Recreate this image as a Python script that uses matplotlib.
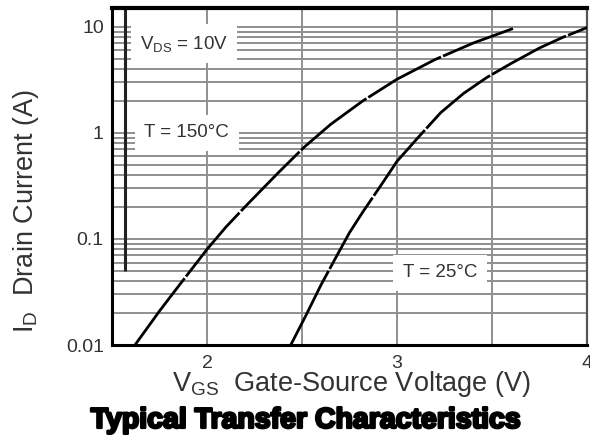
import matplotlib
matplotlib.use("Agg")
import matplotlib.pyplot as plt
import matplotlib.patheffects as pe

plt.rcParams["font.family"] = ["Liberation Sans", "DejaVu Sans"]
plt.rcParams["mathtext.fontset"] = "custom"
plt.rcParams["mathtext.rm"] = "Liberation Sans"
plt.rcParams["mathtext.it"] = "Liberation Sans"

# curves
vgs_150 = [1.62, 1.75, 1.85, 2.0, 2.1, 2.21, 2.38, 2.51, 2.65, 2.82, 3.0, 3.2, 3.4, 3.61]
id_150 = [0.01, 0.021, 0.036, 0.08, 0.13, 0.21, 0.43, 0.73, 1.2, 2.0, 3.2, 4.9, 7.0, 9.6]

vgs_25 = [2.44, 2.52, 2.6, 2.68, 2.75, 2.82, 2.91, 3.0, 3.11, 3.23, 3.35, 3.47, 3.6, 3.75, 3.87, 4.0]
id_25 = [0.01, 0.019, 0.037, 0.068, 0.115, 0.18, 0.31, 0.54, 0.9, 1.55, 2.35, 3.3, 4.5, 6.3, 7.9, 9.8]

x_ticks = [2, 3, 4]
x_grid = [2, 2.5, 3, 3.5, 4]
y_ticks = [0.01, 0.1, 1, 10]
y_ticklabels = ["0.01", "0.1", "1", "10"]

fig = plt.figure(figsize=(5.9, 4.43), dpi=100)
ax = fig.add_axes([0.19, 0.221, 0.805, 0.761])
ax.set_yscale("log")
ax.set_xlim(1.5, 4.0)
ax.set_ylim(0.01, 15)

grid_col = "#8f8f8f"
for dec in [0.01, 0.1, 1, 10]:
    for k in range(1, 10):
        y = dec * k
        if y < 15:
            ax.axhline(y, color=grid_col, lw=1.4, zorder=1)
for xg in x_grid:
    ax.axvline(xg, color=grid_col, lw=1.4, zorder=1)

# odd extra vertical rule near the left edge
ax.vlines(1.568, 0.05, 15, color="#222222", lw=2.2, zorder=2)

ax.plot(vgs_150, id_150, color="black", lw=2.0, ls=(0, (30, 0.8)), zorder=4)
ax.plot(vgs_25, id_25, color="black", lw=2.0, ls=(0, (30, 0.8)), zorder=4)

box = dict(facecolor="white", edgecolor="none", boxstyle="square,pad=0.5")
ax.text(1.647, 6.9, r"V$_{\rm DS}$ = 10V", fontsize=13.5, color="#333333",
        va="center", ha="left", bbox=box, zorder=3)
ax.text(1.67, 1.0, "T = 150°C", fontsize=13.5, color="#333333",
        va="center", ha="left", bbox=box, zorder=3)
ax.text(3.03, 0.048, "T = 25°C", fontsize=13.5, color="#333333",
        va="center", ha="left", bbox=box, zorder=3)

ax.set_xticks(x_ticks)
ax.set_xticklabels([str(t) for t in x_ticks])
ax.set_yticks(y_ticks)
ax.set_yticklabels(y_ticklabels)
ax.yaxis.set_minor_locator(matplotlib.ticker.NullLocator())
ax.tick_params(axis="both", length=0, labelsize=14, colors="#333333")
ax.tick_params(axis="x", pad=7)
ax.tick_params(axis="y", pad=6)

for side in ["left", "bottom", "top"]:
    ax.spines[side].set_linewidth(2.2)
    ax.spines[side].set_color("black")
ax.spines["top"].set_linewidth(3)
ax.spines["right"].set_linewidth(1.6)
ax.spines["right"].set_color("#555555")

fig.text(0.596, 0.133, r"V$_{\rm GS}$  Gate-Source Voltage (V)", fontsize=19.5,
         color="#333333", ha="center", va="center")
fig.text(0.044, 0.525, r"I$_{\rm D}$  Drain Current (A)", fontsize=19.5,
         color="#333333", ha="center", va="center", rotation=90)
fig.text(0.518, 0.05, "Typical Transfer Characteristics", fontsize=20.5,
         fontweight="bold", color="black", ha="center", va="center",
         path_effects=[pe.withStroke(linewidth=1.8, foreground="black")])

fig.savefig("out.png", dpi=100)
